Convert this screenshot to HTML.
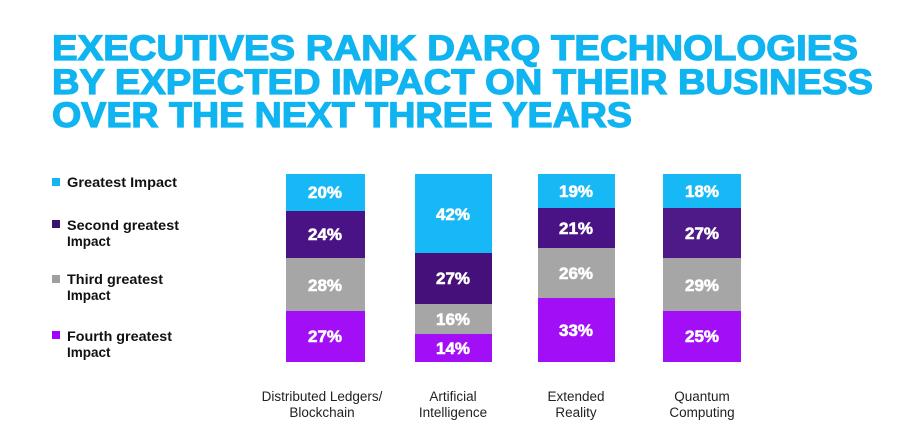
<!DOCTYPE html>
<html><head><meta charset="utf-8"><style>
html,body{margin:0;padding:0;background:#fff;}
svg{display:block;}
text{font-family:"Liberation Sans",sans-serif;}
</style></head><body>
<svg width="899" height="439" viewBox="0 0 899 439">
<g fill="#0FB4F0" font-weight="bold" font-size="35" stroke="#0FB4F0" stroke-width="1.2">
<text x="52" y="60" textLength="806" lengthAdjust="spacingAndGlyphs">EXECUTIVES RANK DARQ TECHNOLOGIES</text>
<text x="52" y="94" textLength="821" lengthAdjust="spacingAndGlyphs">BY EXPECTED IMPACT ON THEIR BUSINESS</text>
<text x="52" y="127" textLength="580" lengthAdjust="spacingAndGlyphs">OVER THE NEXT THREE YEARS</text>
</g>
<g font-weight="bold" font-size="13.5" fill="#111">
<rect x="52" y="178" width="8" height="8" fill="#12B5F0"/>
<text x="67" y="187" textLength="110" lengthAdjust="spacingAndGlyphs">Greatest Impact</text>
<rect x="52" y="220" width="8" height="8" fill="#3F1070"/>
<text x="67" y="230" textLength="112" lengthAdjust="spacingAndGlyphs">Second greatest</text><text x="67" y="246">Impact</text>
<rect x="52" y="275" width="8" height="8" fill="#A0A0A0"/>
<text x="67" y="284" textLength="96" lengthAdjust="spacingAndGlyphs">Third greatest</text><text x="67" y="300">Impact</text>
<rect x="52" y="331" width="8" height="8" fill="#A100FF"/>
<text x="67" y="341" textLength="105" lengthAdjust="spacingAndGlyphs">Fourth greatest</text><text x="67" y="357">Impact</text>
</g>
<g>
<rect x="286" y="174" width="79" height="37" fill="#16B8F5"/>
<rect x="286" y="211" width="79" height="47" fill="#4A1385"/>
<rect x="286" y="258" width="79" height="53" fill="#A6A6A6"/>
<rect x="286" y="311" width="79" height="51" fill="#A20EF5"/>
<rect x="415" y="174" width="77" height="79" fill="#16B8F5"/>
<rect x="415" y="253" width="77" height="51" fill="#46107A"/>
<rect x="415" y="304" width="77" height="30" fill="#A6A6A6"/>
<rect x="415" y="334" width="77" height="28" fill="#A20EF5"/>
<rect x="538" y="174" width="77" height="34" fill="#16B8F5"/>
<rect x="538" y="208" width="77" height="40" fill="#4A1385"/>
<rect x="538" y="248" width="77" height="50" fill="#A6A6A6"/>
<rect x="538" y="298" width="77" height="64" fill="#A20EF5"/>
<rect x="663" y="174" width="78" height="34" fill="#16B8F5"/>
<rect x="663" y="208" width="78" height="50" fill="#4E1A88"/>
<rect x="663" y="258" width="78" height="53" fill="#A6A6A6"/>
<rect x="663" y="311" width="78" height="51" fill="#A20EF5"/>
</g>
<g fill="#fff" font-weight="bold" font-size="17" text-anchor="middle" stroke="#fff" stroke-width="0.6">
<text x="325" y="198">20%</text><text x="325" y="240">24%</text><text x="325" y="291">28%</text><text x="325" y="342">27%</text>
<text x="453" y="220">42%</text><text x="453" y="284">27%</text><text x="453" y="325">16%</text><text x="453" y="354">14%</text>
<text x="576" y="197">19%</text><text x="576" y="234">21%</text><text x="576" y="279">26%</text><text x="576" y="336">33%</text>
<text x="702" y="197">18%</text><text x="702" y="239">27%</text><text x="702" y="291">29%</text><text x="702" y="342">25%</text>
</g>
<g fill="#222" font-size="13.5" text-anchor="middle">
<text x="322" y="401">Distributed Ledgers/</text><text x="322" y="417">Blockchain</text>
<text x="453" y="401">Artificial</text><text x="453" y="417">Intelligence</text>
<text x="576" y="401">Extended</text><text x="576" y="417">Reality</text>
<text x="702" y="401">Quantum</text><text x="702" y="417">Computing</text>
</g>
</svg>
</body></html>
